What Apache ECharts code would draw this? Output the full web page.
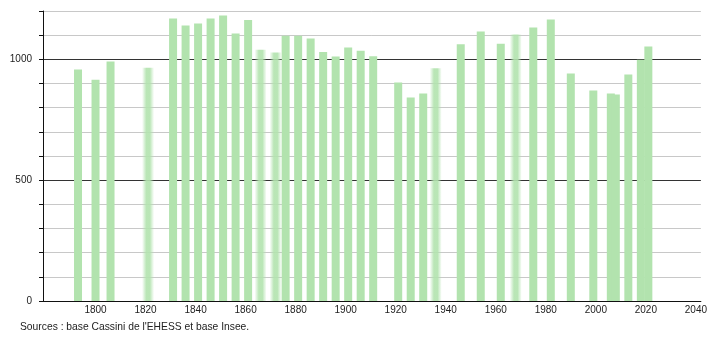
<!DOCTYPE html>
<html>
<head>
<meta charset="utf-8">
<script src="https://cdn.jsdelivr.net/npm/echarts@6/dist/echarts.min.js"></script>
<style>
html,body{margin:0;padding:0;background:#fff;}
#chart{width:710px;height:340px;}
</style>
</head>
<body>
<div id="chart"></div>
<script>
// Census years and population
const years = [1793, 1800, 1806, 1821, 1831, 1836, 1841, 1846, 1851, 1856, 1861, 1866, 1872, 1876, 1881, 1886, 1891, 1896, 1901, 1906, 1911, 1921, 1926, 1931, 1936, 1946, 1954, 1962, 1968, 1975, 1982, 1990, 1999, 2006, 2008, 2013, 2018, 2021];
const population = [958, 916, 991, 965, 1169, 1140, 1148, 1169, 1181, 1107, 1163, 1040, 1028, 1098, 1098, 1086, 1030, 1012, 1049, 1036, 1013, 904, 842, 859, 963, 1062, 1115, 1065, 1103, 1132, 1165, 941, 871, 859, 854, 937, 998, 1053];
// Bars drawn with soft (blurred) edges in the reference
const softYears = [1821, 1866, 1872, 1936, 1968];
const xTickYears = [1800, 1820, 1840, 1860, 1880, 1900, 1920, 1940, 1960, 1980, 2000, 2020, 2040];
const yTickLabels = [0, 500, 1000];
const sourceText = "Sources : base Cassini de l'EHESS et base Insee.";

const green = '#b2e3ae';
const sharpData = [], softData = [];
years.forEach((y, i) => {
  (softYears.includes(y) ? softData : sharpData).push([y, population[i]]);
});

const chart = echarts.init(document.getElementById('chart'));
const xBase = {
  type: 'value', min: 1779, max: 2042, interval: 1,
  axisTick: {show: false}, splitLine: {show: false}
};
chart.setOption({
  animation: false,
  grid: {left: 43, right: 9, top: 11, bottom: 39},
  xAxis: [
    Object.assign({}, xBase, {
      axisLine: {show: true, lineStyle: {color: '#111', width: 1}},
      axisLabel: {
        fontSize: 10, color: '#222', margin: 4, fontFamily: 'Liberation Sans, Arial, sans-serif',
        formatter: v => xTickYears.includes(v) ? String(v) : ''
      }
    }),
    Object.assign({}, xBase, {show: false})
  ],
  yAxis: {
    type: 'value', min: 0, max: 1200, interval: 100,
    axisLine: {show: true, lineStyle: {color: '#111', width: 1}},
    axisTick: {show: true, length: 4, lineStyle: {color: '#111'}},
    axisLabel: {
      fontSize: 10, color: '#222', margin: 11, fontFamily: 'Liberation Sans, Arial, sans-serif',
      formatter: v => yTickLabels.includes(v) ? String(v) : ''
    },
    splitLine: {show: true, lineStyle: {color: ['#333', '#c8c8c8', '#c8c8c8', '#c8c8c8', '#c8c8c8'], width: 1}}
  },
  series: [
    {
      type: 'bar', xAxisIndex: 0, data: sharpData, barWidth: 8,
      itemStyle: {color: green}
    },
    {
      type: 'bar', xAxisIndex: 1, data: softData, barWidth: 12,
      itemStyle: {
        color: new echarts.graphic.LinearGradient(0, 0, 1, 0, [
          {offset: 0, color: 'rgba(178,227,174,0)'},
          {offset: 0.35, color: 'rgba(178,227,174,0.9)'},
          {offset: 0.65, color: 'rgba(178,227,174,0.9)'},
          {offset: 1, color: 'rgba(178,227,174,0)'}
        ])
      }
    }
  ],
  graphic: [{
    type: 'text', left: 20, top: 322,
    style: {text: sourceText, fontSize: 10.3, fill: '#222', fontFamily: 'Liberation Sans, Arial, sans-serif'}
  }]
});
</script>
</body>
</html>
